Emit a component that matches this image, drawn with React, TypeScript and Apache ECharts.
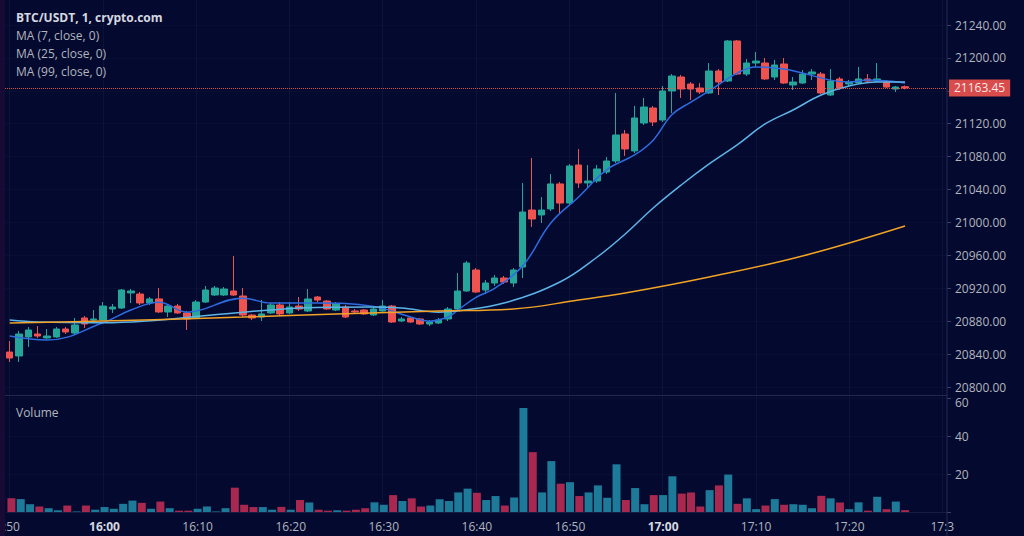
import React, { useEffect, useRef } from "react";
import * as echarts from "echarts";

const categories = [
  "15:50","15:51","15:52","15:53","15:54","15:55","15:56","15:57","15:58","15:59",
  "16:00","16:01","16:02","16:03","16:04","16:05","16:06","16:07","16:08","16:09",
  "16:10","16:11","16:12","16:13","16:14","16:15","16:16","16:17","16:18","16:19",
  "16:20","16:21","16:22","16:23","16:24","16:25","16:26","16:27","16:28","16:29",
  "16:30","16:31","16:32","16:33","16:34","16:35","16:36","16:37","16:38","16:39",
  "16:40","16:41","16:42","16:43","16:44","16:45","16:46","16:47","16:48","16:49",
  "16:50","16:51","16:52","16:53","16:54","16:55","16:56","16:57","16:58","16:59",
  "17:00","17:01","17:02","17:03","17:04","17:05","17:06","17:07","17:08","17:09",
  "17:10","17:11","17:12","17:13","17:14","17:15","17:16","17:17","17:18","17:19",
  "17:20","17:21","17:22","17:23","17:24","17:25","17:26","17:27","17:28","17:29",
  "17:30",
];

const tickTimes = ["15:50","16:00","16:10","16:20","16:30","16:40","16:50","17:00","17:10","17:20","17:30"];
const tickTexts = [":50","16:00","16:10","16:20","16:30","16:40","16:50","17:00","17:10","17:20","17:3"];
const hourTicks = ["16:00","17:00"];

// [open, close, low, high]
const ohlc = [
  [20842.5,20835.2,20830.4,20855.9],[20837.7,20864.4,20830.4,20868.1],[20860.8,20869.3,20848.6,20872.9],
  [20864.4,20862.0,20859.6,20874.1],[20859.6,20862.0,20858.3,20870.5],[20860.8,20870.5,20859.6,20872.9],
  [20870.5,20866.9,20864.4,20872.9],[20865.6,20875.4,20864.4,20883.9],[20883.9,20876.6,20871.7,20886.3],
  [20881.4,20882.7,20879.0,20893.6],[20881.4,20898.4,20880.2,20903.3],[20894.8,20897.2,20890.0,20900.9],
  [20896.0,20917.9,20894.8,20919.1],[20914.3,20916.7,20902.1,20919.1],[20913.0,20902.1,20899.7,20915.5],
  [20902.1,20907.0,20899.7,20909.4],[20907.0,20891.2,20890.0,20920.3],[20891.2,20898.4,20885.1,20900.9],
  [20898.4,20890.0,20888.8,20900.9],[20890.0,20882.7,20869.3,20892.4],[20883.9,20903.3,20882.7,20905.7],
  [20903.3,20917.9,20902.1,20922.8],[20911.8,20920.3,20910.6,20922.8],[20911.8,20919.1,20910.6,20921.5],
  [20916.7,20911.8,20910.6,20959.2],[20910.6,20887.5,20885.1,20920.3],[20887.5,20883.9,20881.4,20888.8],
  [20885.1,20888.8,20880.2,20905.7],[20890.0,20899.7,20888.8,20902.1],[20899.7,20888.8,20886.3,20903.3],
  [20890.0,20897.2,20888.8,20903.3],[20898.4,20894.8,20892.4,20909.4],[20892.4,20907.0,20891.2,20919.1],
  [20909.4,20905.7,20903.3,20910.6],[20904.5,20894.8,20893.6,20905.7],[20893.6,20900.9,20892.4,20903.3],
  [20897.2,20885.1,20883.9,20899.7],[20892.4,20891.2,20888.8,20894.8],[20893.6,20888.8,20887.5,20894.8],
  [20887.5,20894.8,20886.3,20897.2],[20892.4,20898.4,20891.2,20905.7],[20898.4,20879.0,20877.8,20899.7],
  [20880.2,20882.7,20879.0,20885.1],[20883.9,20879.0,20877.8,20885.1],[20882.7,20876.6,20875.4,20883.9],
  [20876.6,20879.0,20874.1,20881.4],[20877.8,20881.4,20876.6,20883.9],[20882.7,20894.8,20880.2,20897.2],
  [20894.8,20916.7,20893.6,20938.6],[20916.7,20950.7,20915.5,20953.1],[20942.2,20915.5,20914.3,20944.6],
  [20917.9,20926.4,20913.0,20930.0],[20926.4,20932.5,20922.8,20936.1],[20932.5,20927.6,20925.2,20934.9],
  [20926.4,20942.2,20921.5,20944.6],[20945.8,21012.7,20932.5,21048.0],[21015.1,21004.2,20994.5,21078.4],
  [21009.1,21015.1,20999.3,21030.9],[21016.4,21046.8,21013.9,21058.9],[21046.8,21023.6,21011.5,21049.2],
  [21023.6,21068.6,21021.2,21071.0],[21069.8,21048.0,21041.9,21089.3],[21048.0,21050.4,21043.1,21069.8],
  [21050.4,21065.0,21048.0,21069.8],[21061.3,21074.7,21058.9,21079.6],[21074.7,21106.3,21072.3,21157.4],
  [21107.5,21089.3,21080.8,21112.4],[21086.9,21127.0,21084.4,21141.6],[21120.9,21140.3,21118.4,21151.3],
  [21139.1,21122.1,21117.2,21141.6],[21124.5,21159.8,21122.1,21165.9],[21159.8,21178.0,21133.0,21180.4],
  [21176.8,21162.2,21151.3,21179.2],[21168.3,21162.2,21148.8,21170.7],[21163.4,21158.6,21156.1,21169.5],
  [21157.4,21184.1,21156.1,21193.8],[21184.1,21170.7,21154.9,21186.5],[21171.9,21220.6,21170.7,21221.8],
  [21220.6,21180.4,21179.2,21221.8],[21180.4,21193.8,21178.0,21198.7],[21193.8,21196.2,21188.9,21207.2],
  [21193.8,21174.4,21173.2,21199.9],[21176.8,21191.4,21173.2,21197.5],[21192.6,21169.5,21168.3,21199.9],
  [21167.1,21170.7,21161.0,21176.8],[21169.5,21180.4,21168.3,21185.3],[21180.4,21182.9,21173.2,21186.5],
  [21180.4,21157.4,21156.1,21182.9],[21154.9,21171.9,21153.7,21186.5],[21174.4,21163.4,21161.0,21176.8],
  [21168.3,21170.7,21165.9,21173.2],[21169.5,21174.4,21168.3,21189.0],[21174.4,21171.9,21169.5,21180.4],
  [21171.9,21174.4,21170.7,21193.8],[21170.7,21164.6,21163.4,21173.2],[21162.2,21164.6,21158.6,21165.9],
  [21165.0,21163.45,21161.8,21166.5],
];

const volumes = [
  7.2,6.8,4.1,2.9,2.0,0.9,3.4,0.3,3.4,1.2,
  2.6,1.7,4.3,6.0,4.8,1.7,5.5,2.0,0.7,0.7,
  1.7,2.9,0.3,2.0,12.8,3.8,2.6,2.6,1.2,2.7,
  1.2,6.3,5.0,1.2,0.7,0.9,0.7,1.2,2.0,5.1,
  3.8,8.9,5.8,7.2,2.9,3.4,6.7,5.8,10.3,12.3,
  10.1,6.3,8.4,3.4,7.6,54.7,31.5,10.3,26.8,14.9,
  15.7,8.4,10.3,14.0,7.5,25.1,6.3,12.6,4.1,8.9,
  8.9,18.8,9.7,10.3,2.9,11.5,14.0,19.7,4.3,7.2,
  1.5,3.4,6.8,3.8,4.1,3.8,2.0,8.5,7.2,5.0,
  1.5,5.1,0.7,8.0,1.5,5.5,1.0,
];

// [candle index, value]
const ma7Points = [
  [0,20862],[4,20857],[10,20878],[13,20893.6],[16,20903],[19,20891],[25,20908],[28,20902],
  [33,20902],[39,20898],[43,20885],[45,20880],[47,20885],[48,20893],[50,20909],[52,20920],
  [55,20947],[58,20999],[61,21031],[64,21064],[67,21082],[69,21100],[71,21131],[73,21146],
  [75,21160],[78,21181.6],[80,21189],[83,21186.5],[85,21181.6],[88,21173],[90,21170.7],
  [92,21173],[96,21169.5],
];
const ma25Points = [
  [0,20881.4],[3,20879],[10,20878],[25,20891],[28,20893.6],[31,20896],[39,20897.2],[42,20896],
  [46,20891],[48,20892.4],[53,20902],[59,20927.6],[63,20958],[66,20986],[69,21017.6],[72,21045.5],
  [75,21071.1],[78,21094.2],[81,21119.7],[84,21136.7],[87,21154.9],[90,21165.9],[93,21170.7],[96,21170.7],
];
const ma99Points = [
  [0,20877.8],[10,20880.2],[25,20885],[35,20888.7],[46,20892.4],[54,20894.8],[61,20905.7],
  [66,20914.2],[75,20933.7],[85,20959.2],[96,20995.7],
];

const lastPrice = 21163.45;
const priceMin = 20800;
const priceMax = 21240;
const priceStep = 40;
const volMax = 60;
const volStep = 20;

const legendTitle = "BTC/USDT, 1, crypto.com";
const legendLines = ["MA (7, close, 0)", "MA (25, close, 0)", "MA (99, close, 0)"];

const BG = "#040a2f";
const UP = "#26a69a";
const DOWN = "#ef5350";
const VOL_UP = "#1d7a99";
const VOL_DOWN = "#a8284f";
const TXT = "#b2b5be";
const FONT = '"Open Sans", "Noto Sans", sans-serif';

export default function App() {
  const ref = useRef<HTMLDivElement>(null);
  useEffect(() => {
    document.body.style.margin = "0";
    document.body.style.background = BG;
    const chart = echarts.init(ref.current!, null, { renderer: "svg" });
    const isTick = (_i: number, v: string) => tickTimes.indexOf(v) >= 0;
    const option: any = {
      animation: false,
      backgroundColor: BG,
      textStyle: { fontFamily: FONT },
      grid: [
        { left: 5, right: 77, top: 25, height: 362 },
        { left: 5, right: 77, top: 398, height: 114 },
        { left: 9.66, right: 81.64, top: 0, height: 512 },
      ],
      xAxis: [
        {
          type: "category", data: categories, gridIndex: 0, boundaryGap: true,
          axisLine: { show: false }, axisTick: { show: false }, axisLabel: { show: false }, splitLine: { show: false },
        },
        {
          type: "category", data: categories, gridIndex: 1, boundaryGap: true,
          axisLine: { show: true, lineStyle: { color: "#161c44" } },
          axisTick: { show: false },
          splitLine: { show: false },
          axisLabel: {
            interval: isTick,
            color: TXT, fontSize: 12, margin: 8, fontFamily: FONT,
            formatter: (v: string) => {
              const k = tickTimes.indexOf(v);
              const t = k >= 0 ? tickTexts[k] : v;
              return hourTicks.indexOf(v) >= 0 ? "{b|" + t + "}" : t;
            },
            rich: { b: { fontWeight: "bold", color: "#d6d8e0", fontSize: 12, fontFamily: FONT } },
          },
        },
        {
          type: "category", data: categories, gridIndex: 2, boundaryGap: false,
          axisLine: { show: false }, axisTick: { show: false }, axisLabel: { show: false },
          splitLine: { show: true, interval: isTick, lineStyle: { color: "rgba(255,255,255,0.04)", width: 1 } },
        },
      ],
      yAxis: [
        {
          type: "value", gridIndex: 0, position: "right", min: priceMin, max: priceMax, interval: priceStep,
          axisLine: { show: false },
          axisTick: { show: true, length: 4, lineStyle: { color: "#3a4066" } },
          axisLabel: {
            color: TXT, fontSize: 12, margin: 8, fontFamily: FONT,
            formatter: (v: number) => (Math.abs(v - lastPrice) < 15 ? "" : v.toFixed(2)),
          },
          splitLine: { show: true, lineStyle: { color: "rgba(255,255,255,0.025)" } },
        },
        {
          type: "value", gridIndex: 1, position: "right", min: 0, max: volMax, interval: volStep,
          axisLine: { show: false },
          axisTick: { show: true, length: 4, lineStyle: { color: "#3a4066" } },
          axisLabel: {
            color: TXT, fontSize: 12, margin: 8, fontFamily: FONT,
            formatter: (v: number) => (v === 0 || v === volMax ? "" : String(v)),
          },
          splitLine: { show: true, lineStyle: { color: "rgba(255,255,255,0.025)" } },
        },
        { type: "value", gridIndex: 2, show: false, min: 0, max: 1 },
      ],
      series: [
        {
          type: "candlestick", name: "BTC/USDT", xAxisIndex: 0, yAxisIndex: 0,
          data: ohlc, barWidth: 7,
          itemStyle: { color: UP, color0: DOWN, borderColor: UP, borderColor0: DOWN, borderColorDoji: UP, borderWidth: 1 },
          markLine: {
            silent: true, symbol: ["none", "none"], animation: false,
            data: [{ yAxis: lastPrice }],
            lineStyle: { color: DOWN, type: "dotted", width: 1, opacity: 0.9 },
            label: {
              show: true, position: "end", distance: 2,
              formatter: () => lastPrice.toFixed(2),
              color: "#ffffff", backgroundColor: DOWN, padding: [3, 5, 2, 5], fontSize: 12, fontFamily: FONT,
            },
          },
        },
        {
          type: "line", name: "MA7", xAxisIndex: 0, yAxisIndex: 0, data: ma7Points,
          smooth: 0.4, symbol: "none", lineStyle: { color: "#2f6be0", width: 1.5 },
        },
        {
          type: "line", name: "MA25", xAxisIndex: 0, yAxisIndex: 0, data: ma25Points,
          smooth: 0.4, symbol: "none", lineStyle: { color: "#5db4e8", width: 1.5 },
        },
        {
          type: "line", name: "MA99", xAxisIndex: 0, yAxisIndex: 0, data: ma99Points,
          smooth: 0.4, symbol: "none", lineStyle: { color: "#f2a225", width: 1.5 },
        },
        {
          type: "bar", name: "Volume", xAxisIndex: 1, yAxisIndex: 1, barWidth: 8,
          data: volumes.map((v, i) => ({
            value: v,
            itemStyle: { color: ohlc[i][1] >= ohlc[i][0] ? VOL_UP : VOL_DOWN },
          })),
        },
      ],
      graphic: [
        { type: "rect", silent: true, z: 50, shape: { x: 0, y: 0, width: 5, height: 536 }, style: { fill: "#170b36" } },
        { type: "line", silent: true, z: 40, shape: { x1: 947, y1: 0, x2: 947, y2: 536 }, style: { stroke: "#222852", lineWidth: 1 } },
        { type: "line", silent: true, z: 40, shape: { x1: 0, y1: 395.5, x2: 947, y2: 395.5 }, style: { stroke: "#222852", lineWidth: 1 } },
        {
          type: "text", x: 955, y: 396, z: 60,
          style: { text: String(volMax), fill: TXT, font: '12px "Open Sans", sans-serif', verticalAlign: "top" },
        },
        {
          type: "text", x: 16, y: 17, z: 60,
          style: { text: legendTitle, fill: "#d6d8e0", font: 'bold 12px "Open Sans", sans-serif', verticalAlign: "middle" },
        },
        ...legendLines.map((t, k) => ({
          type: "text", x: 16, y: 35 + k * 18, z: 60,
          style: { text: t, fill: TXT, font: '12px "Open Sans", sans-serif', verticalAlign: "middle" },
        })),
        {
          type: "text", x: 16, y: 412, z: 60,
          style: { text: "Volume", fill: TXT, font: '12px "Open Sans", sans-serif', verticalAlign: "middle" },
        },
      ],
    };
    chart.setOption(option);
    return () => chart.dispose();
  }, []);
  return <div ref={ref} style={{ width: 1024, height: 536 }} />;
}
